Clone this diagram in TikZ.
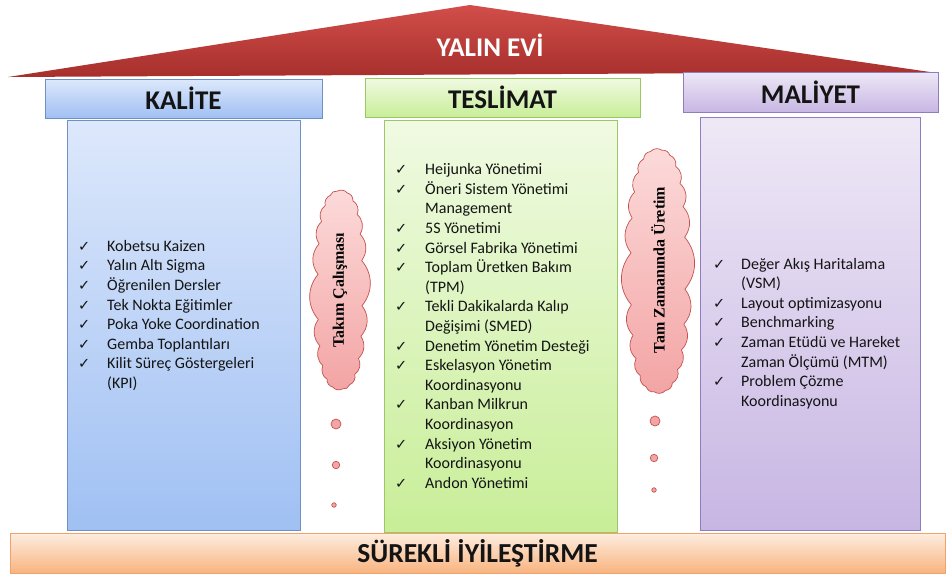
\documentclass[tikz,border=0pt]{standalone}
\usepackage{fontspec}
\setmainfont{Carlito}
\newfontfamily\chkfont{DejaVu Sans}
\newfontfamily\cloudfont{Liberation Serif}
\definecolor{txt}{HTML}{141414}
\newcommand{\chk}{{\chkfont\fontsize{14.5}{14.5}\selectfont ✓}}
\newcommand{\ci}[1]{\makebox[#1][l]{\chk}}
\definecolor{blue1}{HTML}{DDE8FB}
\definecolor{blue2}{HTML}{A0C0F3}
\definecolor{blueb}{HTML}{6F90C4}
\definecolor{green1}{HTML}{F0FAE2}
\definecolor{green2}{HTML}{C8EE98}
\definecolor{greenb}{HTML}{9DC766}
\definecolor{purp1}{HTML}{EEE8F6}
\definecolor{purp2}{HTML}{C7B6E3}
\definecolor{purpb}{HTML}{8F7DC0}
\definecolor{org1}{HTML}{FDEDE0}
\definecolor{org2}{HTML}{F8B47F}
\definecolor{orgb}{HTML}{F0A46C}
\definecolor{cloud1}{HTML}{FCDADA}
\definecolor{cloud2}{HTML}{F3A4A4}
\definecolor{cloudb}{HTML}{C4514E}
\definecolor{roof1}{HTML}{D24E4A}
\definecolor{roof2}{HTML}{A62F2C}
\tikzset{
  hdr/.style={draw, line width=0.8pt, inner sep=0pt, font=\fontsize{27}{27}\selectfont\bfseries, text=txt},
  col/.style={draw, line width=0.8pt, inner sep=0pt},
  lst/.style={inner sep=0pt, align=left, text=txt, font=\fontsize{16}{19.6}\selectfont},
  bluebox/.style={top color=blue1, bottom color=blue2, draw=blueb},
  greenbox/.style={top color=green1, bottom color=green2, draw=greenb},
  purplebox/.style={top color=purp1, bottom color=purp2, draw=purpb},
  cloudfill/.style={top color=cloud1, bottom color=cloud2, draw=cloudb, line width=0.7pt, line join=round},
  cloudtxt/.style={rotate=90, inner sep=0pt, font=\cloudfont\fontsize{16}{16}\selectfont\bfseries, text=black},
  dot/.style={circle, draw=cloudb, line width=0.7pt, fill=cloud2, inner sep=0pt}
}
% #1 name, #2 cx, #3 cy, #4 half width, #5 half height, #6 number of puffs
\newcommand{\cloudpath}[6]{%
  \pgfmathsetmacro{\cstep}{360/#6}
  \pgfmathtruncatemacro{\clast}{#6-1}
  \foreach \i in {0,...,\clast}{
    \pgfmathsetmacro{\ct}{(\i+0.3)*\cstep}
    \pgfmathsetmacro{\cx}{#2+#4*sign(cos(\ct))*pow(abs(cos(\ct)),0.75)}
    \pgfmathsetmacro{\cy}{#3+#5*sign(sin(\ct))*pow(abs(sin(\ct)),0.75)}
    \coordinate (#1p\i) at (\cx,\cy);
  }
  \shadedraw[cloudfill] (#1p0) \foreach \i in {1,...,\clast}{ to[bend left=40] (#1p\i) } to[bend left=40] (#1p0);
}
\begin{document}
\begin{tikzpicture}[x=1pt, y=-1pt]
\useasboundingbox (0,0) rectangle (952,579);
% roof
\shade[top color=roof1, bottom color=roof2] (8,77) -- (470,5) -- (930,72) -- cycle;
\node[text=white, font=\fontsize{27}{27}\selectfont\bfseries] (roof) at (490,45) {YALIN EVİ};
% columns
\node[col, bluebox, minimum width=233pt, minimum height=410pt] (kcol) at (183.5,325) {};
\node[col, greenbox, minimum width=233pt, minimum height=412pt] (tcol) at (500.5,326) {};
\node[col, purplebox, minimum width=220pt, minimum height=413pt] (mcol) at (810,323.5) {};
% headers
\node[hdr, bluebox, minimum width=277pt, minimum height=39pt] (khdr) at (183.5,98.5) {KALİTE};
\node[hdr, greenbox, minimum width=275pt, minimum height=39pt] (thdr) at (502.5,97.5) {TESLİMAT};
\node[hdr, purplebox, minimum width=255pt, minimum height=40pt] (mhdr) at (810.5,92) {MALİYET};
% base
\node[col, top color=org1, bottom color=org2, draw=orgb, minimum width=935pt, minimum height=40pt,
  font=\fontsize{27.5}{27.5}\selectfont\bfseries, text=txt] (base) at (477.5,553) {SÜREKLİ İYİLEŞTİRME};
% lists
\node[lst, anchor=west] (klist) at (78,315.5) {%
\ci{29pt}Kobetsu Kaizen\\
\ci{29pt}Yalın Altı Sigma\\
\ci{29pt}Öğrenilen Dersler\\
\ci{29pt}Tek Nokta Eğitimler\\
\ci{29pt}Poka Yoke Coordination\\
\ci{29pt}Gemba Toplantıları\\
\ci{29pt}Kilit Süreç Göstergeleri\\
\hspace*{29pt}(KPI)};
\node[lst, anchor=west] (tlist) at (395,326) {%
\ci{30pt}Heijunka Yönetimi\\
\ci{30pt}Öneri Sistem Yönetimi\\
\hspace*{30pt}Management\\
\ci{30pt}5S Yönetimi\\
\ci{30pt}Görsel Fabrika Yönetimi\\
\ci{30pt}Toplam Üretken Bakım\\
\hspace*{30pt}(TPM)\\
\ci{30pt}Tekli Dakikalarda Kalıp\\
\hspace*{30pt}Değişimi (SMED)\\
\ci{30pt}Denetim Yönetim Desteği\\
\ci{30pt}Eskelasyon Yönetim\\
\hspace*{30pt}Koordinasyonu\\
\ci{30pt}Kanban Milkrun\\
\hspace*{30pt}Koordinasyon\\
\ci{30pt}Aksiyon Yönetim\\
\hspace*{30pt}Koordinasyonu\\
\ci{30pt}Andon Yönetimi};
\node[lst, anchor=west] (mlist) at (713,333.5) {%
\ci{28pt}Değer Akış Haritalama\\
\hspace*{28pt}(VSM)\\
\ci{28pt}Layout optimizasyonu\\
\ci{28pt}Benchmarking\\
\ci{28pt}Zaman Etüdü ve Hareket\\
\hspace*{28pt}Zaman Ölçümü (MTM)\\
\ci{28pt}Problem Çözme\\
\hspace*{28pt}Koordinasyonu};
% clouds
\cloudpath{ca}{340}{290}{22}{99}{22}
\node[cloudtxt] (c1) at (340,290) {Takım Çalışması};
\cloudpath{cb}{658}{271}{27}{121}{24}
\node[cloudtxt] (c2) at (658,270) {Tam Zamanında Üretim};
\node[dot, minimum size=10pt] (d1) at (336,424) {};
\node[dot, minimum size=7.5pt] (d2) at (336,465) {};
\node[dot, minimum size=4.5pt] (d3) at (334,505) {};
\node[dot, minimum size=10pt] (e1) at (655,421) {};
\node[dot, minimum size=7.5pt] (e2) at (654,458) {};
\node[dot, minimum size=4.5pt] (e3) at (654,490) {};
\end{tikzpicture}
\end{document}
